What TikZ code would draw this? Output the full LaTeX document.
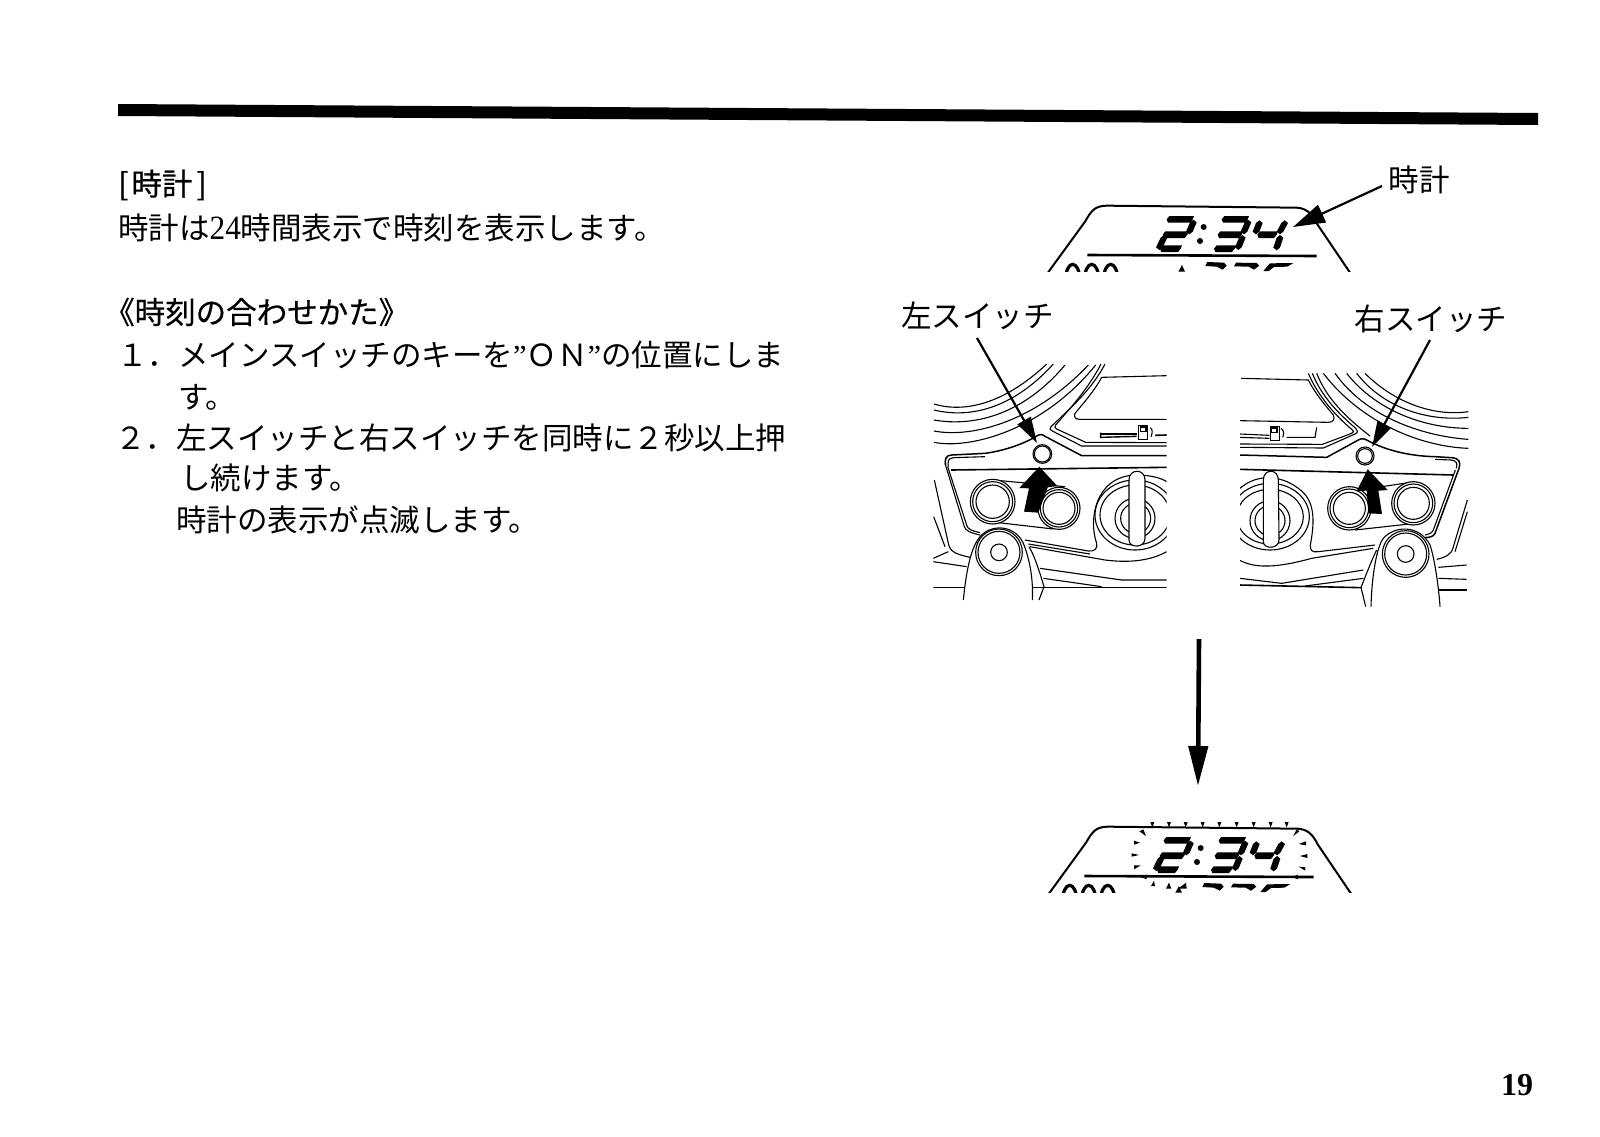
\documentclass[tikz,border=0pt]{standalone}
\usepackage{fontspec}
\usepackage{graphicx}
\usetikzlibrary{arrows.meta}
\setmainfont{Liberation Serif}
\newfontfamily\jpf{Noto Sans CJK JP}
\newfontfamily\jpb[FakeBold=0.5]{Noto Sans CJK JP}
\newcommand\sz{\fontsize{30.5}{30.5}\selectfont}
\newcommand\ser[1]{{\rmfamily\sz #1}}
\newcommand\fwone{\char"FF11\relax}
\newcommand\fwtwo{\char"FF12\relax}
\newcommand\fwdot{\char"FF0E\relax}
\newcommand\fwO{\char"FF2F\relax}
\newcommand\fwN{\char"FF2E\relax}
\tikzset{
 ink/.style={line width=1.1pt,black},
 inkb/.style={line width=1.6pt,black},
 txt/.style={anchor=west,inner sep=0pt,font=\jpf\sz},
 txtb/.style={anchor=west,inner sep=0pt,font=\jpb\sz},
 lbl/.style={anchor=center,inner sep=0pt,font=\jpf\sz},
 ptr/.style={line width=2.2pt,-{Triangle[length=26pt,width=15pt]}},
 clkptr/.style={line width=2.2pt,-{Triangle[length=32pt,width=19pt]}},
 bigptr/.style={line width=4.6pt,-{Triangle[length=40pt,width=19pt]}},
 zoomed/.style={xscale=1/3,yscale=1/3},
}
\newcommand\hsegm[3]{\fill ({#1},{#2})--({#1+8},{#2-10})--({#1+#3+4},{#2-10})--({#1+#3},{#2})--({#1+#3-8},{#2+10})--({#1+4},{#2+10})--cycle;}
\newcommand\vsegm[4]{\fill ({#1},{#2})--({#1+10},{#2+8})--({#3+10},{#4-8})--({#3},{#4})--({#3-10},{#4-8})--({#1-10},{#2+8})--cycle;}
\newcommand\clockdigits{%
 \hsegm{350}{73}{78}\vsegm{430}{74}{418}{118}\hsegm{338}{119}{74}\vsegm{342}{120}{328}{165}\hsegm{330}{161}{62}
 \fill (461,96) circle (9); \fill (450,138) circle (9);
 \hsegm{515}{73}{78}\vsegm{594}{74}{582}{118}\hsegm{503}{119}{72}\vsegm{577}{120}{565}{165}\hsegm{492}{161}{62}
 \vsegm{628}{76}{618}{118}\hsegm{622}{119}{58}\vsegm{704}{76}{690}{118}\vsegm{690}{120}{680}{166}
}
\newcommand\clockbody[1]{%
 \begin{scope}
 \clip (-30,0) rectangle (930,228);
 \draw[line width=2pt,shift={(#1,0)}] (-15,245) -- (105,80) .. controls (125,45) and (135,33) .. (170,32) -- (740,38) .. controls (770,40) and (785,55) .. (800,85) -- (915,255);
 \draw[line width=3.2pt] (68,252) ellipse (21 and 44);
 \draw[line width=3.2pt] (125,252) ellipse (21 and 44);
 \draw[line width=3.2pt] (182,252) ellipse (21 and 44);
 \fill (385,230)--(396,210)--(405,230)--cycle;
 \fill (472,201)--(522,203)--(530,212)--(518,224)--(500,215)--(466,213)--cycle;
 \fill (558,203)--(620,204)--(628,212)--(612,224)--(596,215)--(552,214)--cycle;
 \fill (660,205)--(730,204)--(712,215)--(672,216)--(656,228)--(640,228)--cycle;
 \end{scope}
 \draw[line width=2.6pt] (112,180) -- (800,183);
}
\begin{document}
\begin{tikzpicture}[x=1pt,y=-1pt]
\useasboundingbox (0,0) rectangle (1600,1136);
\fill[white] (0,0) rectangle (1600,1136);
\fill (118,104) -- (1538,113) -- (1538,125) -- (118,116) -- cycle;
% text
\node[txtb] (t1) at (118,185) {[\hspace{3pt}時計\hspace{4pt}]};
\node[txt] (t2) at (118,228) {時計は{\rmfamily\fontsize{34}{34}\selectfont\scalebox{.92}[1]{24}}時間表示で時刻を表示します。};
\node[txtb] (t3) at (104,312) {《時刻の合わせかた》};
\node[txt] (t4) at (117,355) {\fwone\fwdot メインスイッチのキーを\ser{”}\fwO\fwN\ser{”}の位置にしま};
\node[txt] (t5) at (178,397) {す。};
\node[txt] (t6) at (115,438) {\fwtwo\fwdot 左スイッチと右スイッチを同時に\fwtwo 秒以上押};
\node[txt] (t7) at (180,478) {し続けます。};
\node[txt] (t8) at (176,520) {時計の表示が点滅します。};
\node[anchor=center,inner sep=0pt,font=\bfseries\fontsize{32}{32}\selectfont] (pg) at (1517,1085) {19};
% labels
\node[lbl] (clk) at (1419,180) {時計};
\node[lbl] (lsw) at (977.5,316) {左スイッチ};
\node[lbl] (rsw) at (1431,319) {右スイッチ};
% top display
\begin{scope}[shift={(1050,195)},zoomed]
 \clockbody{0}
 \clockdigits
\end{scope}
% bottom display
\begin{scope}[shift={(1047,816)},zoomed]
 \clockbody{12}
 \clockdigits
\end{scope}
% blink rays
\begin{scope}[shift={(1030,620)},zoomed]
 \foreach \q in {367,417,467,518,568,620,671,722,770}{
  \fill (\q-6,606) -- (\q+6,606) -- (\q,622) -- cycle;
 }
 \fill (328,634)--(340,628)--(348,648)--cycle;
 \fill (312,662)--(330,668)--(312,674)--cycle;
 \fill (305,700)--(327,705)--(305,710)--cycle;
 \fill (312,748)--(332,736)--(312,736)--cycle;
 \fill (790,648)--(808,634)--(800,628)--cycle;
 \fill (806,672)--(828,664)--(828,676)--cycle;
 \fill (810,708)--(832,702)--(832,714)--cycle;
 \fill (806,740)--(826,742)--(826,752)--cycle;
 \fill (332,771)--(350,764)--(350,778)--cycle;
 \fill (786,771)--(804,764)--(804,778)--cycle;
 \fill (363,798)--(372,782)--(375,798)--cycle;
 \fill (408,806)--(417,788)--(424,806)--cycle;
 \fill (445,806)--(468,788)--(470,806)--cycle;
\end{scope}
% LEFT PANEL
\begin{scope}[shift={(925,360)},zoomed]
 \clip (25,10) rectangle (725,720);
 \begin{scope}[ink]
 \draw (27,132) .. controls (120,160) and (240,130) .. (365,12);
 \draw (27,150) .. controls (130,175) and (260,150) .. (385,12);
 \draw (27,180) .. controls (140,200) and (290,170) .. (420,15);
 \draw (27,213) .. controls (140,235) and (330,185) .. (490,15);
 \draw (27,247) .. controls (130,268) and (350,215) .. (512,15);
 \draw (540,12) .. controls (500,90) and (430,150) .. (378,200) .. controls (372,206) and (375,210) .. (382,213) -- (470,258) -- (725,258);
 \draw (528,12) .. controls (490,85) and (440,140) .. (392,195) .. controls (388,202) and (390,204) .. (395,207) -- (482,247) -- (725,248);
 \draw (725,47) -- (530,52) .. controls (510,90) and (475,130) .. (450,160) .. controls (445,172) and (452,178) .. (465,178) -- (725,178);
 \draw[line width=1.5pt] (62,315) .. controls (58,300) and (62,285) .. (80,285) -- (180,280) .. controls (240,272) and (300,250) .. (335,228) .. controls (345,222) and (352,222) .. (362,230) -- (470,287) -- (725,287);
 \draw (70,320) .. controls (68,305) and (68,295) .. (85,293) -- (180,290);
 \draw[inkb] (78,330) -- (725,322);
 \draw (352,282) circle (28); \draw (352,282) circle (24);
 \draw[line width=1.4pt] (527,218) -- (527,232) -- (635,229);
 \draw (527,222) -- (635,222);
 \draw[line width=.9pt] (640,197) -- (668,197) -- (668,238) -- (640,238) -- cycle;
 \draw[line width=1.4pt] (647,201) rectangle (663,214);
 \draw (676,203) .. controls (686,210) and (680,225) .. (678,230);
 \draw[inkb] (690,226) -- (725,225);
 \draw (60,310) -- (118,500) .. controls (122,512) and (135,518) .. (165,525);
 \draw (68,320) -- (126,498) .. controls (130,508) and (140,512) .. (165,518);
 \draw (300,540) -- (490,573) .. controls (510,575) and (518,565) .. (515,550) .. controls (490,480) and (510,350) .. (630,345) .. controls (680,345) and (710,355) .. (725,365);
 \draw (310,552) -- (495,582);
 \draw (28,360) -- (70,550) .. controls (75,575) and (90,582) .. (135,592);
 \draw (26,470) -- (60,560);
 \draw (25,595) -- (70,575);
 \draw (25,605) -- (125,620);
 \draw[inkb] (25,682) -- (725,682);
 \draw (345,625) -- (590,660) -- (725,660);
 \draw (355,655) -- (530,680);
 \draw (315,560) -- (540,600) .. controls (620,610) and (680,600) .. (725,575);
 \draw (205,360) -- (420,380);
 \draw (195,485) -- (385,507);
 \draw[fill=white] (203,425) circle (67); \draw (203,425) circle (60); \draw (203,425) circle (50);
 \draw[fill=white] (402,445) circle (63); \draw (402,445) circle (56); \draw (402,445) circle (48);
 \draw (630,465) ellipse (120 and 105);
 \draw (630,465) ellipse (105 and 90);
 \draw (630,475) ellipse (60 and 60);
 \draw (632,475) ellipse (45 and 45);
 \draw[fill=white] (612,540) -- (612,360) .. controls (612,325) and (660,325) .. (660,360) -- (660,535) .. controls (660,565) and (612,565) .. (612,540) -- cycle;
 \draw[fill=white] (115,720) .. controls (125,620) and (140,560) .. (165,530) .. controls (200,490) and (270,495) .. (295,550) .. controls (315,600) and (325,660) .. (322,720);
 \draw (342,720) -- (357,680) .. controls (345,640) and (330,590) .. (312,560);
 \draw (222,577) circle (70); \draw (222,577) circle (63);
 \draw (222,577) circle (25);
 \end{scope}
 \fill (343,320) -- (397,378) -- (368,382) -- (340,458) -- (297,455) -- (312,385) -- (283,384) -- cycle;
\end{scope}
% RIGHT PANEL
\begin{scope}[shift={(1235,360)},zoomed]
 \clip (15,30) rectangle (700,740);
 \begin{scope}[ink]
 \draw (700,155) .. controls (600,170) and (480,130) .. (390,40);
 \draw (700,172) .. controls (590,185) and (450,150) .. (365,40);
 \draw (700,205) .. controls (580,205) and (430,160) .. (335,40);
 \draw (700,238) .. controls (580,230) and (400,180) .. (300,40);
 \draw (700,265) .. controls (560,260) and (380,190) .. (265,40);
 \draw (18,55) -- (220,60) .. controls (240,100) and (270,135) .. (295,165) .. controls (300,178) and (295,187) .. (280,187) -- (15,182);
 \draw (232,40) .. controls (260,110) and (310,160) .. (362,205) .. controls (370,215) and (368,218) .. (360,222) -- (265,264) -- (15,262);
 \draw (220,40) .. controls (250,110) and (300,165) .. (350,208) .. controls (358,214) and (356,216) .. (350,220) -- (262,253) -- (15,252);
 \draw (245,40) .. controls (275,115) and (330,170) .. (405,228);
 \draw[line width=1.5pt] (15,285) -- (275,292) -- (370,240) .. controls (380,235) and (385,235) .. (395,240) .. controls (450,270) and (520,288) .. (600,290) -- (650,293) .. controls (672,295) and (678,305) .. (672,325) -- (600,520) .. controls (595,530) and (585,532) .. (570,533);
 \draw (600,298) -- (648,300) .. controls (665,302) and (668,310) .. (664,325);
 \draw (661,330) -- (595,510) .. controls (590,520) and (580,524) .. (570,525);
 \draw[inkb] (15,328) -- (655,345);
 \draw (390,288) circle (27); \draw (390,288) circle (22);
 \draw[line width=.9pt] (105,200) -- (133,200) -- (133,240) -- (105,240) -- cycle;
 \draw[line width=1.4pt] (110,204) rectangle (126,217);
 \draw (138,205) .. controls (150,212) and (145,228) .. (143,232);
 \draw (15,222) -- (103,226);
 \draw (15,232) -- (103,235);
 \draw (155,232) -- (240,232) -- (245,202);
 \draw (697,420) -- (655,560) .. controls (650,585) and (630,592) .. (605,598);
 \draw (697,455) -- (660,575);
 \draw (610,622) -- (695,615);
 \draw (610,655) -- (695,658);
 \draw[inkb] (612,690) -- (695,690);
 \draw (14,655) -- (140,670) -- (385,630);
 \draw[inkb] (12,675) -- (380,683);
 \draw (210,678) -- (385,655);
 \draw (12,600) .. controls (60,625) and (120,625) .. (230,595) -- (415,565);
 \draw (420,555) -- (250,575) .. controls (230,578) and (225,570) .. (226,555) .. controls (240,480) and (240,420) .. (190,385) .. controls (130,340) and (60,345) .. (15,385);
 \draw (375,390) -- (540,365);
 \draw (360,510) -- (540,490);
 \draw[fill=white] (343,445) circle (65); \draw (343,445) circle (58); \draw (343,445) circle (48);
 \draw[fill=white] (535,430) circle (65); \draw (535,430) circle (58); \draw (535,430) circle (48);
 \draw (105,470) ellipse (118 and 100);
 \draw (105,470) ellipse (100 and 82);
 \draw (105,482) ellipse (60 and 60);
 \draw (105,482) ellipse (45 and 45);
 \draw[fill=white] (85,545) -- (85,360) .. controls (85,325) and (130,325) .. (130,360) -- (132,540) .. controls (132,568) and (85,568) .. (85,545) -- cycle;
 \draw[fill=white] (408,740) .. controls (410,650) and (425,560) .. (445,535) .. controls (480,495) and (555,495) .. (585,555) .. controls (600,600) and (612,690) .. (615,740);
 \draw (392,740) -- (378,682) .. controls (395,640) and (410,600) .. (425,570);
 \draw (512,582) circle (70); \draw (512,582) circle (63);
 \draw (512,582) circle (25);
 \end{scope}
 \fill (398,328) -- (458,390) -- (430,392) -- (441,462) -- (400,460) -- (395,392) -- (365,393) -- cycle;
\end{scope}
% connectors
\coordinate (clkA) at (1382,186);
\coordinate (clkB) at (1293,227);
\draw[clkptr] (clkA) -- (clkB);
\coordinate (lswA) at (977,338);
\coordinate (lswB) at (1037,443);
\draw[ptr] (lswA) -- (lswB);
\coordinate (rswA) at (1430,340);
\coordinate (rswB) at (1372,447);
\draw[ptr] (rswA) -- (rswB);
\coordinate (downA) at (1199,639);
\coordinate (downB) at (1198,786);
\draw[bigptr] (downA) -- (downB);
\end{tikzpicture}
\end{document}
